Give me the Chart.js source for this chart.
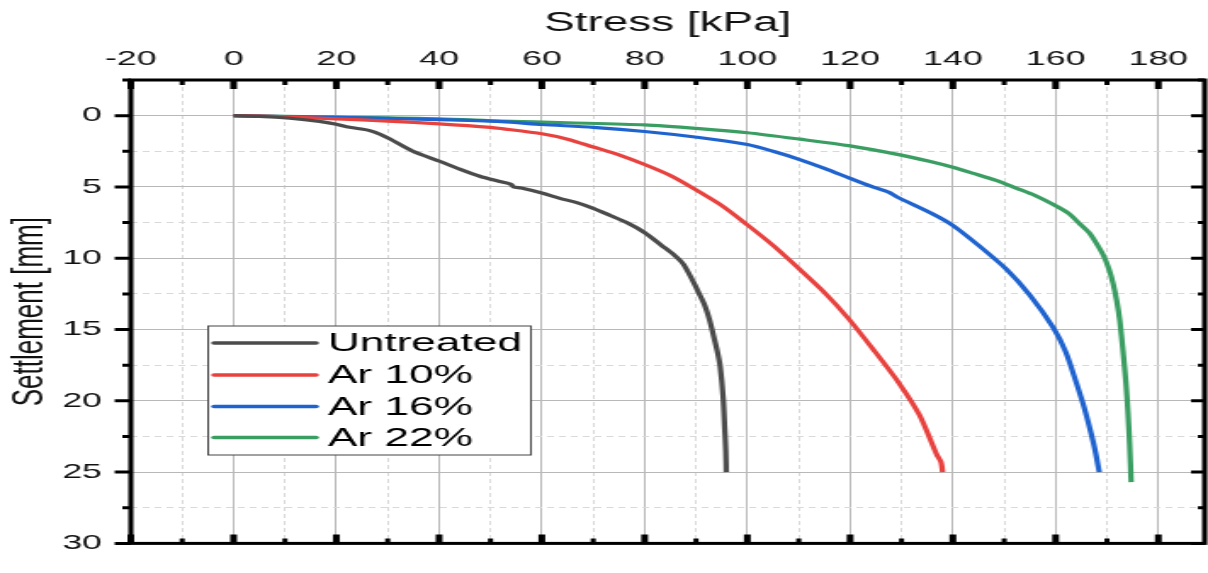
<!DOCTYPE html>
<html>
<head>
<meta charset="utf-8">
<script src="https://cdn.jsdelivr.net/npm/chart.js@4.4.1/dist/chart.umd.min.js"></script>
<style>
  html, body { margin: 0; padding: 0; background: #fff; }
</style>
</head>
<body>
<!-- the reference is a horizontally stretched figure, so the canvas is drawn narrow and stretched -->
<canvas id="chart" width="711" height="573" style="width:1208px;height:573px;display:block"></canvas>
<script>
// stress [kPa] / settlement [mm]
const untreatedStress = [0, 5, 10.9, 16.7, 20, 22, 24.5, 26.5, 28.5, 30.5, 34.9, 40.1, 44, 47.9, 51.8, 54, 54.5, 56, 60, 63.5, 66.8, 70, 73.3, 76.5, 80, 83.3, 85.5, 87.5, 89.4, 90.5, 91.7, 92.7, 93.5, 94.2, 94.7, 95.3, 95.6, 95.8, 95.9];
const untreatedSettlement = [0, 0.05, 0.18, 0.4, 0.6, 0.78, 0.92, 1.05, 1.3, 1.65, 2.5, 3.2, 3.75, 4.25, 4.62, 4.82, 5.0, 5.08, 5.43, 5.8, 6.1, 6.5, 7.0, 7.5, 8.2, 9.1, 9.7, 10.4, 11.6, 12.4, 13.3, 14.4, 15.56, 16.6, 17.57, 19.8, 22.0, 23.5, 25.0];

const ar10Stress = [0, 10, 20, 30, 40, 50, 52.2, 60, 65, 70, 75, 80, 85, 89.5, 95, 100, 105, 110.2, 115, 119.6, 124.5, 129.4, 133.5, 136.9, 137.7, 138];
const ar10Settlement = [0, 0.08, 0.22, 0.38, 0.58, 0.82, 0.91, 1.27, 1.65, 2.2, 2.75, 3.43, 4.2, 5.1, 6.3, 7.66, 9.1, 10.78, 12.4, 14.2, 16.4, 18.7, 21.0, 23.8, 24.3, 25.0];

const ar16Stress = [0, 20, 40, 52.2, 60, 70, 80, 90.6, 100, 105, 110.2, 115, 120, 124, 127.6, 129, 136, 140, 145, 150.5, 155, 159.6, 162, 164, 165.5, 166.7, 167.7, 168.5];
const ar16Settlement = [0, 0.12, 0.28, 0.42, 0.62, 0.82, 1.11, 1.53, 2.03, 2.5, 3.08, 3.7, 4.4, 4.95, 5.38, 5.68, 6.88, 7.7, 9.1, 10.8, 12.6, 14.9, 16.6, 18.7, 20.4, 22.0, 23.5, 25.0];

const ar22Stress = [0, 20, 40, 52, 65, 80, 90.6, 100, 110.2, 120, 129.7, 135.4, 140, 144, 148.4, 152.3, 156, 160, 162.5, 164.6, 166.5, 167.8, 169.3, 170.4, 171.2, 171.9, 172.5, 173.1, 173.7, 174.1, 174.4, 174.7];
const ar22Settlement = [0, 0.1, 0.22, 0.38, 0.5, 0.65, 0.91, 1.2, 1.65, 2.12, 2.75, 3.2, 3.62, 4.05, 4.54, 5.08, 5.6, 6.32, 6.85, 7.55, 8.2, 8.88, 9.8, 10.78, 11.8, 13.0, 14.4, 16.45, 18.8, 20.9, 23.0, 25.7];

const seriesNames = ['Untreated', 'Ar 10%', 'Ar 16%', 'Ar 22%'];
const seriesColors = ['#4b4b4b', '#e8423f', '#1f63cf', '#3a9d62'];

const xTicks = { min: -20, max: 189, step: 10, labelEvery: 20 };
const yTicks = { min: -2.5, max: 30, step: 2.5, labelEvery: 5 };

const FONT = "'Liberation Sans', Arial, sans-serif";

function toPoints(xs, ys) {
  return xs.map(function(x, i) { return { x: x, y: ys[i] }; });
}

const allSeries = [
  toPoints(untreatedStress, untreatedSettlement),
  toPoints(ar10Stress, ar10Settlement),
  toPoints(ar16Stress, ar16Settlement),
  toPoints(ar22Stress, ar22Settlement)
];

function isMajor(value, every) {
  return Math.abs(value / every - Math.round(value / every)) < 1e-6;
}

// frame with inward/outward tick marks, like the Origin plot
const framePlugin = {
  id: 'frame',
  afterDatasetsDraw(chart) {
    const ctx = chart.ctx;
    const a = chart.chartArea;
    const xs = chart.scales.x;
    const ys = chart.scales.y;
    ctx.save();
    ctx.strokeStyle = '#000';
    ctx.lineCap = 'butt';

    xs.ticks.forEach(function(t) {
      const px = xs.getPixelForValue(t.value);
      const major = isMajor(t.value, xTicks.labelEvery);
      ctx.lineWidth = major ? 4 : 3;
      const len = major ? 9 : 5;
      ctx.beginPath();
      ctx.moveTo(px, a.top); ctx.lineTo(px, a.top + len);
      ctx.moveTo(px, a.bottom); ctx.lineTo(px, a.bottom - len);
      ctx.stroke();
    });

    ys.ticks.forEach(function(t) {
      const py = ys.getPixelForValue(t.value);
      const major = isMajor(t.value, yTicks.labelEvery);
      ctx.lineWidth = 3;
      ctx.beginPath();
      ctx.moveTo(a.left, py); ctx.lineTo(a.left - (major ? 9.5 : 5), py);
      ctx.moveTo(a.right, py); ctx.lineTo(a.right - (major ? 8 : 4), py);
      ctx.stroke();
    });

    ctx.lineWidth = 3;
    ctx.strokeRect(a.left, a.top, a.right - a.left, a.bottom - a.top);
    ctx.restore();
  },
  afterDraw(chart) {
    // legend box inside the plot
    const ctx = chart.ctx;
    const box = { left: 122.5, top: 326, right: 312.5, bottom: 455 };
    const rows = [343, 375, 406.5, 437.5];
    ctx.save();
    ctx.fillStyle = '#fff';
    ctx.fillRect(box.left, box.top, box.right - box.left, box.bottom - box.top);
    ctx.strokeStyle = '#444';
    ctx.lineWidth = 1;
    ctx.strokeRect(box.left, box.top, box.right - box.left, box.bottom - box.top);
    chart.data.datasets.forEach(function(ds, i) {
      ctx.strokeStyle = ds.borderColor;
      ctx.lineWidth = 3.5;
      ctx.lineCap = 'round';
      ctx.beginPath();
      ctx.moveTo(126, rows[i]);
      ctx.lineTo(186, rows[i]);
      ctx.stroke();
      ctx.fillStyle = '#000';
      ctx.font = '26px ' + FONT;
      ctx.textBaseline = 'middle';
      ctx.textAlign = 'left';
      ctx.fillText(ds.label, 193, rows[i] + 1);
    });
    ctx.restore();
  }
};

new Chart(document.getElementById('chart'), {
  type: 'scatter',
  data: {
    datasets: allSeries.map(function(points, i) {
      return {
        label: seriesNames[i],
        data: points,
        showLine: true,
        borderColor: seriesColors[i],
        backgroundColor: seriesColors[i],
        borderWidth: 3.2,
        pointRadius: 0,
        tension: 0.25
      };
    })
  },
  options: {
    responsive: false,
    animation: false,
    layout: { padding: { left: 0, top: 0, right: 2, bottom: 7 } },
    plugins: {
      legend: { display: false },
      tooltip: { enabled: false }
    },
    scales: {
      x: {
        type: 'linear',
        position: 'top',
        min: xTicks.min,
        max: xTicks.max,
        afterFit: function(scale) { scale.height = 80; },
        ticks: {
          stepSize: xTicks.step,
          includeBounds: false,
          autoSkip: false,
          maxRotation: 0,
          padding: 8,
          color: '#111',
          font: { family: FONT, size: 21 },
          callback: function(v) { return isMajor(v, xTicks.labelEvery) ? v : ''; }
        },
        grid: {
          drawTicks: false,
          lineWidth: 1,
          color: function(c) { return isMajor(c.tick.value, xTicks.labelEvery) ? '#b8b8b8' : '#d9d9d9'; }
        },
        border: {
          display: false,
          dash: function(c) { return isMajor(c.tick.value, xTicks.labelEvery) ? [] : [4, 3]; }
        },
        title: {
          display: true,
          text: 'Stress [kPa]',
          color: '#111',
          font: { family: FONT, size: 27 },
          padding: { top: 7, bottom: 0 }
        }
      },
      y: {
        type: 'linear',
        reverse: true,
        min: yTicks.min,
        max: yTicks.max,
        afterFit: function(scale) { scale.width = 77; },
        ticks: {
          stepSize: yTicks.step,
          autoSkip: false,
          padding: 17,
          color: '#111',
          font: { family: FONT, size: 21 },
          callback: function(v) { return isMajor(v, yTicks.labelEvery) ? v : ''; }
        },
        grid: {
          drawTicks: false,
          lineWidth: 1,
          color: function(c) { return isMajor(c.tick.value, yTicks.labelEvery) ? '#b8b8b8' : '#d9d9d9'; }
        },
        border: {
          display: false,
          dash: function(c) { return isMajor(c.tick.value, yTicks.labelEvery) ? [] : [4, 3]; }
        },
        title: {
          display: true,
          text: 'Settlement [mm]',
          color: '#111',
          font: { family: FONT, size: 26 },
          padding: { top: 2, bottom: 0 }
        }
      }
    }
  },
  plugins: [framePlugin]
});
</script>
</body>
</html>
